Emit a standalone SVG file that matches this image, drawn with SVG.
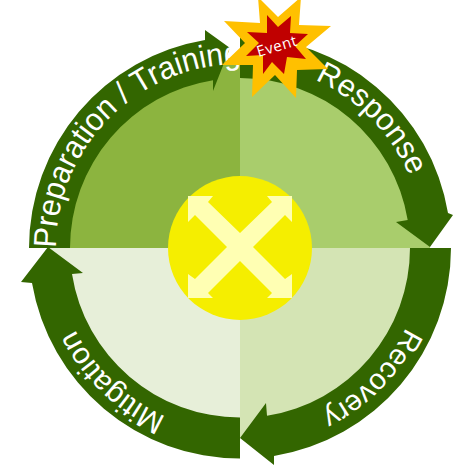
<svg xmlns="http://www.w3.org/2000/svg" width="453" height="465" viewBox="0 0 453 465">
<style>
.band{fill:#336600}
.lbl{font-family:"Liberation Sans",Arial,sans-serif;fill:#fff;font-size:30px}
.evt{font-family:"Open Sans","DejaVu Sans",sans-serif;fill:#fff;font-size:15px;letter-spacing:.6px}
</style>
<defs>
<path id="pPrep" d="M56 248A184 184 0 0 1 240 64"/>
<path id="pResp" d="M240 64A184 184 0 0 1 424 248"/>
<path id="pRec" d="M424 248A184 184 0 0 1 240 432"/>
<path id="pMit" d="M240 432A184 184 0 0 1 56 248"/>
</defs>
<rect width="453" height="465" fill="#fff"/>
<g id="quadrants">
<path id="q-preparation" d="M240 248H50A190 190 0 0 1 240 58Z" fill="#8CB43F"/>
<path id="q-response" d="M240 248V58A190 190 0 0 1 430 248Z" fill="#A9CD6C"/>
<path id="q-recovery" d="M240 248H430A190 190 0 0 1 240 438Z" fill="#D4E4B4"/>
<path id="q-mitigation" d="M240 248V438A190 190 0 0 1 48 248Z" fill="#E7EFD9"/>
</g>
<g id="connectors">
<path class="band" d="M29 248A211 211 0 0 1 205 40L205 30L230 48L213 91L213 80.2A170 170 0 0 0 70 248Z"/>
<path class="band" d="M240 37A211 211 0 0 1 448 213L453 215L430 247L396 222L407.7 220A170 170 0 0 0 240 78Z"/>
<path class="band" d="M451 248A211 211 0 0 1 274 456L274 465L240 438L266 403L267 415.8A170 170 0 0 0 410 248Z"/>
<path class="band" d="M240 458.5A211 211 0 0 1 32 283L21 282L48 247L83 273L72 274A170 170 0 0 0 240 417.5Z"/>
<text class="lbl" style="font-size:32px"><textPath href="#pPrep" startOffset="0" textLength="290" lengthAdjust="spacingAndGlyphs">Preparation / Training</textPath></text>
<text class="lbl" style="font-size:31px"><textPath href="#pResp" startOffset="77" textLength="138" lengthAdjust="spacingAndGlyphs">Response</textPath></text>
<text class="lbl" style="font-size:29px"><textPath href="#pRec" startOffset="82">Recovery</textPath></text>
<text class="lbl" style="font-size:30px"><textPath href="#pMit" startOffset="76">Mitigation</textPath></text>
</g>
<g id="center">
<circle cx="240" cy="248" r="72" fill="#F5EE00"/>
<path fill="#FFFFB3" d="M240 233L272 202L267 196H292V222L285 215L253 247L285 279L292 274V298H267L272 293L240 261L208 293L213 298H188V274L195 279L227 247L195 215L188 222V196H213L208 202Z"/>
</g>
<g id="event">
<path fill="#FFC000" d="M258 -3L278 17L301 -3L299 25L331 26L306 47L328 69L297 70L296 98L275 75L252 97L253 65L222 65L245 43L224 21L260 23Z"/>
<path fill="#C00000" d="M267 15L278 27L291 16L290 33L308 34L295 46L306 59L287 57L284 74L272 62L263 74L263 55L246 56L259 43L247 32L267 33Z"/>
<text class="evt" transform="translate(278.5 51) rotate(-17)" text-anchor="middle">Event</text>
</g>
</svg>
